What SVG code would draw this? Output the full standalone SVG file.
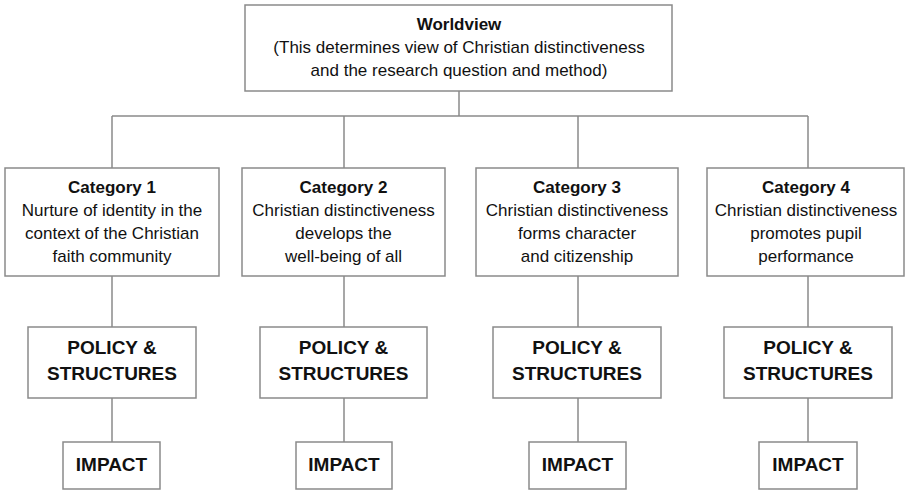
<svg xmlns="http://www.w3.org/2000/svg" width="908" height="491" viewBox="0 0 908 491">
<style>
.box{fill:#fff;stroke:#8a8a8a;stroke-width:1.5}
.ln{stroke:#8a8a8a;stroke-width:1.5;fill:none}
text{font-family:"Liberation Sans",Arial,sans-serif;fill:#111;text-anchor:middle}
.t{font-size:17px}
.b{font-weight:bold}
.big{font-size:19px;font-weight:bold}
</style>
<rect width="908" height="491" fill="#fff"/>
<g id="connectors">
<path class="ln" d="M459 91V116M112 116H808M112 116V168M344 116V168M578 116V168M808 116V168"/>
<path class="ln" d="M112 276V327M344 276V327M578 276V327M808 276V327"/>
<path class="ln" d="M112 398V442M344 398V442M578 398V442M808 398V442"/>
</g>
<g id="worldview">
<rect class="box" x="245" y="5" width="427" height="86"/>
<text class="t b" x="459" y="30">Worldview</text>
<text class="t" x="459" y="53">(This determines view of Christian distinctiveness</text>
<text class="t" x="459" y="76">and the research question and method)</text>
</g>
<g id="cat1">
<rect class="box" x="5" y="168" width="214" height="108"/>
<text class="t b" x="112" y="193">Category 1</text>
<text class="t" x="112" y="216">Nurture of identity in the</text>
<text class="t" x="112" y="239">context of the Christian</text>
<text class="t" x="112" y="262">faith community</text>
</g>
<g id="cat2">
<rect class="box" x="242" y="168" width="203" height="108"/>
<text class="t b" x="343.5" y="193">Category 2</text>
<text class="t" x="343.5" y="216">Christian distinctiveness</text>
<text class="t" x="343.5" y="239">develops the</text>
<text class="t" x="343.5" y="262">well-being of all</text>
</g>
<g id="cat3">
<rect class="box" x="476" y="168" width="202" height="108"/>
<text class="t b" x="577" y="193">Category 3</text>
<text class="t" x="577" y="216">Christian distinctiveness</text>
<text class="t" x="577" y="239">forms character</text>
<text class="t" x="577" y="262">and citizenship</text>
</g>
<g id="cat4">
<rect class="box" x="707" y="168" width="197" height="108"/>
<text class="t b" x="806" y="193">Category 4</text>
<text class="t" x="806" y="216">Christian distinctiveness</text>
<text class="t" x="806" y="239">promotes pupil</text>
<text class="t" x="806" y="262">performance</text>
</g>
<g id="policy1">
<rect class="box" x="28" y="327" width="168" height="71"/>
<text class="big" x="112" y="354">POLICY &amp;</text>
<text class="big" x="112" y="380">STRUCTURES</text>
</g>
<g id="policy2">
<rect class="box" x="260" y="327" width="167" height="71"/>
<text class="big" x="343.5" y="354">POLICY &amp;</text>
<text class="big" x="343.5" y="380">STRUCTURES</text>
</g>
<g id="policy3">
<rect class="box" x="493" y="327" width="168" height="71"/>
<text class="big" x="577" y="354">POLICY &amp;</text>
<text class="big" x="577" y="380">STRUCTURES</text>
</g>
<g id="policy4">
<rect class="box" x="724" y="327" width="168" height="71"/>
<text class="big" x="808" y="354">POLICY &amp;</text>
<text class="big" x="808" y="380">STRUCTURES</text>
</g>
<g id="impact1">
<rect class="box" x="63" y="442" width="97" height="47"/>
<text class="big" x="111.5" y="471">IMPACT</text>
</g>
<g id="impact2">
<rect class="box" x="296" y="442" width="96" height="47"/>
<text class="big" x="344" y="471">IMPACT</text>
</g>
<g id="impact3">
<rect class="box" x="529" y="442" width="97" height="47"/>
<text class="big" x="577.5" y="471">IMPACT</text>
</g>
<g id="impact4">
<rect class="box" x="759" y="442" width="98" height="47"/>
<text class="big" x="808" y="471">IMPACT</text>
</g>
</svg>
